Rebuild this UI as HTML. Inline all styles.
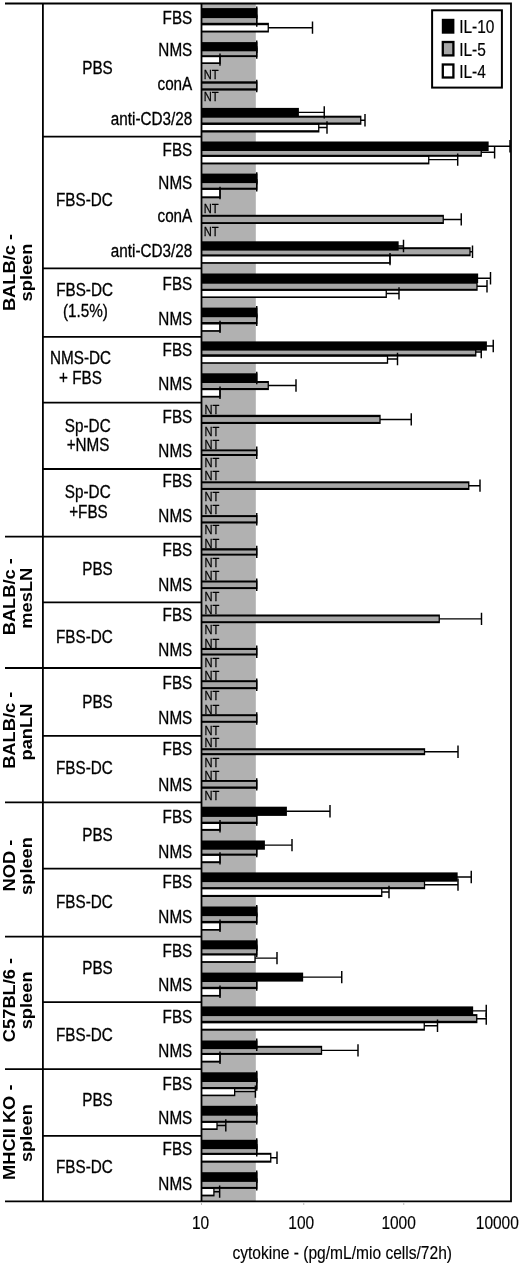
<!DOCTYPE html>
<html lang="en"><head><meta charset="utf-8"><title>Cytokine chart</title>
<style>
html,body{margin:0;padding:0;background:#fff}
body{width:520px;height:1265px;overflow:hidden}
svg{display:block}
text{font-family:"Liberation Sans",sans-serif;fill:#000}
.rl{font-size:17.6px;text-anchor:end;stroke:#000;stroke-width:0.3px}
.sl{font-size:17.6px;text-anchor:middle;stroke:#000;stroke-width:0.3px}
.nt{font-size:13px;text-anchor:start;stroke:#000;stroke-width:0.25px}
.ax{font-size:17.5px;text-anchor:middle;stroke:#000;stroke-width:0.15px}
.rb{font-size:18.3px;font-weight:bold;text-anchor:middle}
.lg{font-size:18.1px;text-anchor:start;stroke:#000;stroke-width:0.2px}
.k{fill:#000}.g{fill:#a6a6a6}.w{fill:#fff}
.e{stroke:#000;stroke-width:1.45;fill:none}
.l{stroke:#000;stroke-width:1.8;fill:none}
</style></head><body>
<svg width="520" height="1265" viewBox="0 0 520 1265">
<rect x="0" y="0" width="520" height="1265" fill="#fff"/>
<rect x="201.5" y="3.5" width="54.30" height="1197.90" fill="#b1b1b1"/>
<g>
<rect class="k" x="201.5" y="22.8" width="67.4" height="9.7"/>
<rect class="w" x="201.5" y="25.2" width="66.1" height="5.4"/>
<rect class="k" x="201.5" y="16.1" width="55.9" height="9.1"/>
<rect class="g" x="201.5" y="18.1" width="54.6" height="4.7"/>
<rect class="k" x="201.5" y="8.1" width="55.9" height="9.2"/>
<path class="e" d="M268.25 27.65H312.5M312.5 21.45V33.85"/>
<path class="e" d="M256.75 14.45V26.85"/>
<path class="e" d="M256.75 6.5V18.9"/>
</g>
<g>
<rect class="k" x="201.5" y="55.2" width="19.15" height="8.8"/>
<rect class="w" x="201.5" y="57.1" width="17.85" height="5.2"/>
<rect class="k" x="201.5" y="48" width="55.9" height="9.1"/>
<rect class="g" x="201.5" y="50" width="54.6" height="5.2"/>
<rect class="k" x="201.5" y="42.1" width="55.9" height="9.2"/>
<path class="e" d="M220 53.4V65.8"/>
<path class="e" d="M256.75 46.35V58.75"/>
<path class="e" d="M256.75 40.5V52.9"/>
</g>
<g>
<rect class="k" x="201.5" y="81.3" width="55.9" height="9.3"/>
<rect class="g" x="201.5" y="83.7" width="54.6" height="4.6"/>
<path class="e" d="M256.75 79.75V92.15"/>
<text class="nt" transform="translate(203.8 79.1) scale(0.86 1)">NT</text>
<text class="nt" transform="translate(203.8 101.3) scale(0.86 1)">NT</text>
</g>
<g>
<rect class="k" x="201.5" y="122.5" width="117.9" height="10"/>
<rect class="w" x="201.5" y="124.8" width="116.6" height="5.4"/>
<rect class="k" x="201.5" y="115.7" width="159.9" height="9.1"/>
<rect class="g" x="201.5" y="117.7" width="158.6" height="4.8"/>
<rect class="k" x="201.5" y="107.9" width="97.4" height="8.9"/>
<path class="e" d="M318.75 127.5H327M327 121.3V133.7"/>
<path class="e" d="M360.75 120.25H365M365 114.05V126.45"/>
<path class="e" d="M298.25 112.35H324.25M324.25 106.15V118.55"/>
</g>
<g>
<rect class="k" x="201.5" y="154.8" width="227.9" height="9.6"/>
<rect class="w" x="201.5" y="156.8" width="226.6" height="5.7"/>
<rect class="k" x="201.5" y="147.7" width="280.4" height="9.1"/>
<rect class="g" x="201.5" y="149.7" width="279.1" height="5.1"/>
<rect class="k" x="201.5" y="141.5" width="287.15" height="9.5"/>
<path class="e" d="M428.75 159.6H457.7M457.7 153.4V165.8"/>
<path class="e" d="M481.25 152.25H494.6M494.6 146.05V158.45"/>
<path class="e" d="M488 146.25H510M510 140.05V152.45"/>
</g>
<g>
<rect class="k" x="201.5" y="187.7" width="19.15" height="10.6"/>
<rect class="w" x="201.5" y="189.8" width="17.85" height="6.5"/>
<rect class="k" x="201.5" y="180.7" width="55.9" height="9.1"/>
<rect class="g" x="201.5" y="182.7" width="54.6" height="5"/>
<rect class="k" x="201.5" y="173.6" width="55.9" height="9.5"/>
<path class="e" d="M220 186.8V199.2"/>
<path class="e" d="M256.75 179.05V191.45"/>
<path class="e" d="M256.75 172.15V184.55"/>
</g>
<g>
<rect class="k" x="201.5" y="214.8" width="242.4" height="9.2"/>
<rect class="g" x="201.5" y="216.8" width="241.1" height="5.3"/>
<path class="e" d="M443.25 219.4H461.25M461.25 213.2V225.6"/>
<text class="nt" transform="translate(203.8 213.3) scale(0.86 1)">NT</text>
<text class="nt" transform="translate(203.8 235.6) scale(0.86 1)">NT</text>
</g>
<g>
<rect class="k" x="201.5" y="254.4" width="189.15" height="9.4"/>
<rect class="w" x="201.5" y="256.3" width="187.85" height="5.8"/>
<rect class="k" x="201.5" y="247.2" width="269.15" height="9.1"/>
<rect class="g" x="201.5" y="249.2" width="267.85" height="5.2"/>
<rect class="k" x="201.5" y="241.3" width="197.15" height="9.3"/>
<path class="e" d="M390 252.9V265.3"/>
<path class="e" d="M470 251.75H472.5M472.5 245.55V257.95"/>
<path class="e" d="M398 245.95H403.5M403.5 239.75V252.15"/>
</g>
<g>
<rect class="k" x="201.5" y="288.8" width="185.4" height="9.2"/>
<rect class="w" x="201.5" y="290.8" width="184.1" height="5.6"/>
<rect class="k" x="201.5" y="281.7" width="276.15" height="9.1"/>
<rect class="g" x="201.5" y="283.7" width="274.85" height="5.1"/>
<rect class="k" x="201.5" y="273.5" width="276.65" height="9.5"/>
<path class="e" d="M386.25 293.4H399M399 287.2V299.6"/>
<path class="e" d="M477 286.25H487M487 280.05V292.45"/>
<path class="e" d="M477.5 278.25H490.5M490.5 272.05V284.45"/>
</g>
<g>
<rect class="k" x="201.5" y="322" width="19.15" height="9.8"/>
<rect class="w" x="201.5" y="324.3" width="17.85" height="5.8"/>
<rect class="k" x="201.5" y="315.2" width="55.9" height="9.1"/>
<rect class="g" x="201.5" y="317.2" width="54.6" height="4.8"/>
<rect class="k" x="201.5" y="307.6" width="55.9" height="9.2"/>
<path class="e" d="M220 320.7V333.1"/>
<path class="e" d="M256.75 313.55V325.95"/>
<path class="e" d="M256.75 306V318.4"/>
</g>
<g>
<rect class="k" x="201.5" y="354.3" width="186.65" height="9.5"/>
<rect class="w" x="201.5" y="356.6" width="185.35" height="5.6"/>
<rect class="k" x="201.5" y="347.5" width="274.9" height="9.1"/>
<rect class="g" x="201.5" y="349.5" width="273.6" height="4.8"/>
<rect class="k" x="201.5" y="341.4" width="285.4" height="9.2"/>
<path class="e" d="M387.5 359.05H397.5M397.5 352.85V365.25"/>
<path class="e" d="M475.75 352.05H481.25M481.25 345.85V358.25"/>
<path class="e" d="M486.25 346H493.25M493.25 339.8V352.2"/>
</g>
<g>
<rect class="k" x="201.5" y="388" width="19.15" height="9.6"/>
<rect class="w" x="201.5" y="390.1" width="17.85" height="5.7"/>
<rect class="k" x="201.5" y="381" width="67.4" height="9.1"/>
<rect class="g" x="201.5" y="383" width="66.1" height="5"/>
<rect class="k" x="201.5" y="373.3" width="55.9" height="9.3"/>
<path class="e" d="M220 386.6V399"/>
<path class="e" d="M268.25 385.55H296M296 379.35V391.75"/>
<path class="e" d="M256.75 371.75V384.15"/>
</g>
<g>
<rect class="k" x="201.5" y="414.8" width="179.15" height="9.2"/>
<rect class="g" x="201.5" y="417.1" width="177.85" height="4.8"/>
<path class="e" d="M380 419.4H411.25M411.25 413.2V425.6"/>
<text class="nt" transform="translate(204.5 414.4) scale(0.86 1)">NT</text>
<text class="nt" transform="translate(204.5 435.5) scale(0.86 1)">NT</text>
</g>
<g>
<rect class="k" x="201.5" y="449.4" width="55.9" height="6.6"/>
<rect class="g" x="201.5" y="451.3" width="54.6" height="2.7"/>
<path class="e" d="M256.75 446.5V458.9"/>
<text class="nt" transform="translate(204.5 448.5) scale(0.86 1)">NT</text>
<text class="nt" transform="translate(204.5 467.2) scale(0.86 1)">NT</text>
</g>
<g>
<rect class="k" x="201.5" y="481.3" width="267.9" height="8.7"/>
<rect class="g" x="201.5" y="483.3" width="266.6" height="4.6"/>
<path class="e" d="M468.75 485.65H480M480 479.45V491.85"/>
<text class="nt" transform="translate(204.5 480.2) scale(0.86 1)">NT</text>
<text class="nt" transform="translate(204.5 501.2) scale(0.86 1)">NT</text>
</g>
<g>
<rect class="k" x="201.5" y="515.1" width="55.9" height="8.4"/>
<rect class="g" x="201.5" y="517.1" width="54.6" height="4.3"/>
<path class="e" d="M256.75 513.1V525.5"/>
<text class="nt" transform="translate(204.5 514.2) scale(0.86 1)">NT</text>
<text class="nt" transform="translate(204.5 534.4) scale(0.86 1)">NT</text>
</g>
<g>
<rect class="k" x="201.5" y="548.2" width="55.9" height="7.4"/>
<rect class="g" x="201.5" y="550.5" width="54.6" height="3.2"/>
<path class="e" d="M256.75 545.7V558.1"/>
<text class="nt" transform="translate(204.5 547.9) scale(0.86 1)">NT</text>
<text class="nt" transform="translate(204.5 566.9) scale(0.86 1)">NT</text>
</g>
<g>
<rect class="k" x="201.5" y="580.5" width="55.9" height="8.6"/>
<rect class="g" x="201.5" y="582.5" width="54.6" height="4.6"/>
<path class="e" d="M256.75 578.6V591"/>
<text class="nt" transform="translate(204.5 580.2) scale(0.86 1)">NT</text>
<text class="nt" transform="translate(204.5 600.6) scale(0.86 1)">NT</text>
</g>
<g>
<rect class="k" x="201.5" y="614.5" width="238.4" height="8.7"/>
<rect class="g" x="201.5" y="616.5" width="237.1" height="4.7"/>
<path class="e" d="M439.25 618.85H481.5M481.5 612.65V625.05"/>
<text class="nt" transform="translate(204.5 613.7) scale(0.86 1)">NT</text>
<text class="nt" transform="translate(204.5 634.4) scale(0.86 1)">NT</text>
</g>
<g>
<rect class="k" x="201.5" y="647.9" width="55.9" height="7.6"/>
<rect class="g" x="201.5" y="650" width="54.6" height="3.5"/>
<path class="e" d="M256.75 645.5V657.9"/>
<text class="nt" transform="translate(204.5 647.7) scale(0.86 1)">NT</text>
<text class="nt" transform="translate(204.5 666.7) scale(0.86 1)">NT</text>
</g>
<g>
<rect class="k" x="201.5" y="680.2" width="55.9" height="9"/>
<rect class="g" x="201.5" y="682.2" width="54.6" height="4.9"/>
<path class="e" d="M256.75 678.5V690.9"/>
<text class="nt" transform="translate(204.5 679.6) scale(0.86 1)">NT</text>
<text class="nt" transform="translate(204.5 700.3) scale(0.86 1)">NT</text>
</g>
<g>
<rect class="k" x="201.5" y="714.2" width="55.9" height="8.6"/>
<rect class="g" x="201.5" y="716.2" width="54.6" height="4.6"/>
<path class="e" d="M256.75 712.3V724.7"/>
<text class="nt" transform="translate(204.5 713.8) scale(0.86 1)">NT</text>
<text class="nt" transform="translate(204.5 734.6) scale(0.86 1)">NT</text>
</g>
<g>
<rect class="k" x="201.5" y="748.2" width="223.65" height="7"/>
<rect class="g" x="201.5" y="750.3" width="222.35" height="2.8"/>
<path class="e" d="M424.5 751.7H458M458 745.5V757.9"/>
<text class="nt" transform="translate(204.5 747.3) scale(0.86 1)">NT</text>
<text class="nt" transform="translate(204.5 766.9) scale(0.86 1)">NT</text>
</g>
<g>
<rect class="k" x="201.5" y="780" width="55.9" height="8.8"/>
<rect class="g" x="201.5" y="781.9" width="54.6" height="4.6"/>
<path class="e" d="M256.75 778.2V790.6"/>
<text class="nt" transform="translate(204.5 779.6) scale(0.86 1)">NT</text>
<text class="nt" transform="translate(204.5 800.2) scale(0.86 1)">NT</text>
</g>
<g>
<rect class="k" x="201.5" y="821.7" width="19.15" height="9.2"/>
<rect class="w" x="201.5" y="824" width="17.85" height="4.9"/>
<rect class="k" x="201.5" y="814.9" width="55.9" height="9.1"/>
<rect class="g" x="201.5" y="816.9" width="54.6" height="4.8"/>
<rect class="k" x="201.5" y="806.7" width="85.4" height="9.2"/>
<path class="e" d="M220 820.1V832.5"/>
<path class="e" d="M256.75 813.25V825.65"/>
<path class="e" d="M286.25 811.3H330M330 805.1V817.5"/>
</g>
<g>
<rect class="k" x="201.5" y="853.6" width="19.15" height="9.6"/>
<rect class="w" x="201.5" y="855.7" width="17.85" height="5.5"/>
<rect class="k" x="201.5" y="846.6" width="55.9" height="9.1"/>
<rect class="g" x="201.5" y="848.6" width="54.6" height="5"/>
<rect class="k" x="201.5" y="840.5" width="63.4" height="9.2"/>
<path class="e" d="M220 852.2V864.6"/>
<path class="e" d="M256.75 844.95V857.35"/>
<path class="e" d="M264.25 845.1H292M292 838.9V851.3"/>
</g>
<g>
<rect class="k" x="201.5" y="887.1" width="180.9" height="9.9"/>
<rect class="w" x="201.5" y="889.2" width="179.6" height="5.7"/>
<rect class="k" x="201.5" y="880.1" width="223.65" height="9.1"/>
<rect class="g" x="201.5" y="882.1" width="222.35" height="5"/>
<rect class="k" x="201.5" y="872.4" width="256.15" height="9.3"/>
<path class="e" d="M381.75 892.05H389M389 885.85V898.25"/>
<path class="e" d="M424.5 884.65H458M458 878.45V890.85"/>
<path class="e" d="M457 877.05H471.25M471.25 870.85V883.25"/>
</g>
<g>
<rect class="k" x="201.5" y="920.9" width="19.15" height="9.8"/>
<rect class="w" x="201.5" y="923.2" width="17.85" height="5.8"/>
<rect class="k" x="201.5" y="914.1" width="55.9" height="9.1"/>
<rect class="g" x="201.5" y="916.1" width="54.6" height="4.8"/>
<rect class="k" x="201.5" y="906.5" width="55.9" height="9.2"/>
<path class="e" d="M220 919.6V932"/>
<path class="e" d="M256.75 912.45V924.85"/>
<path class="e" d="M256.75 904.9V917.3"/>
</g>
<g>
<rect class="k" x="201.5" y="953.3" width="54.15" height="9.6"/>
<rect class="w" x="201.5" y="955.3" width="52.85" height="5.8"/>
<rect class="k" x="201.5" y="946.2" width="55.9" height="9.1"/>
<rect class="g" x="201.5" y="948.2" width="54.6" height="5.1"/>
<rect class="k" x="201.5" y="940.3" width="55.9" height="9"/>
<path class="e" d="M255 958.1H277M277 951.9V964.3"/>
<path class="e" d="M256.75 944.55V956.95"/>
<path class="e" d="M256.75 938.6V951"/>
</g>
<g>
<rect class="k" x="201.5" y="986.8" width="19.15" height="9.8"/>
<rect class="w" x="201.5" y="989.1" width="17.85" height="5.8"/>
<rect class="k" x="201.5" y="980" width="55.9" height="9.1"/>
<rect class="g" x="201.5" y="982" width="54.6" height="4.8"/>
<rect class="k" x="201.5" y="972.6" width="101.65" height="9"/>
<path class="e" d="M220 985.5V997.9"/>
<path class="e" d="M256.75 978.35V990.75"/>
<path class="e" d="M302.5 977.1H341.75M341.75 970.9V983.3"/>
</g>
<g>
<rect class="k" x="201.5" y="1020.8" width="223.4" height="9.9"/>
<rect class="w" x="201.5" y="1023.2" width="222.1" height="5.5"/>
<rect class="k" x="201.5" y="1014.1" width="275.9" height="9.1"/>
<rect class="g" x="201.5" y="1016.1" width="274.6" height="4.7"/>
<rect class="k" x="201.5" y="1006.4" width="271.65" height="8.9"/>
<path class="e" d="M424.25 1025.75H437.5M437.5 1019.55V1031.95"/>
<path class="e" d="M476.75 1018.65H486.25M486.25 1012.45V1024.85"/>
<path class="e" d="M472.5 1010.85H486.25M486.25 1004.65V1017.05"/>
</g>
<g>
<rect class="k" x="201.5" y="1052.9" width="19.15" height="9.7"/>
<rect class="w" x="201.5" y="1054.9" width="17.85" height="5.8"/>
<rect class="k" x="201.5" y="1045.8" width="120.65" height="9.1"/>
<rect class="g" x="201.5" y="1047.8" width="119.35" height="5.1"/>
<rect class="k" x="201.5" y="1040.5" width="55.9" height="8.6"/>
<path class="e" d="M220 1051.55V1063.95"/>
<path class="e" d="M321.5 1050.35H358M358 1044.15V1056.55"/>
<path class="e" d="M256.75 1038.6V1051"/>
</g>
<g>
<rect class="k" x="201.5" y="1087" width="33.8" height="9.2"/>
<rect class="w" x="201.5" y="1089.1" width="32.5" height="5.5"/>
<rect class="k" x="201.5" y="1080" width="55.9" height="9.1"/>
<rect class="g" x="201.5" y="1082" width="54.6" height="5"/>
<rect class="k" x="201.5" y="1072.3" width="55.9" height="9.3"/>
<path class="e" d="M234.65 1091.6H255.4M255.4 1085.4V1097.8"/>
<path class="e" d="M256.75 1078.35V1090.75"/>
<path class="e" d="M256.75 1070.75V1083.15"/>
</g>
<g>
<rect class="k" x="201.5" y="1120.8" width="16.15" height="9.2"/>
<rect class="w" x="201.5" y="1122.8" width="14.85" height="5.5"/>
<rect class="k" x="201.5" y="1113.7" width="55.9" height="9.1"/>
<rect class="g" x="201.5" y="1115.7" width="54.6" height="5.1"/>
<rect class="k" x="201.5" y="1105.8" width="55.9" height="9.2"/>
<path class="e" d="M217 1125.4H225.8M225.8 1119.2V1131.6"/>
<path class="e" d="M256.75 1112.05V1124.45"/>
<path class="e" d="M256.75 1104.2V1116.6"/>
</g>
<g>
<rect class="k" x="201.5" y="1152.8" width="69.9" height="9.9"/>
<rect class="w" x="201.5" y="1154.8" width="68.6" height="5.8"/>
<rect class="k" x="201.5" y="1145.7" width="55.9" height="9.1"/>
<rect class="g" x="201.5" y="1147.7" width="54.6" height="5.1"/>
<rect class="k" x="201.5" y="1139.8" width="55.9" height="9.3"/>
<path class="e" d="M270.75 1157.75H277M277 1151.55V1163.95"/>
<path class="e" d="M256.75 1144.05V1156.45"/>
<path class="e" d="M256.75 1138.25V1150.65"/>
</g>
<g>
<rect class="k" x="201.5" y="1186.9" width="13.05" height="9.5"/>
<rect class="w" x="201.5" y="1188.9" width="11.75" height="5.7"/>
<rect class="k" x="201.5" y="1179.8" width="55.9" height="9.1"/>
<rect class="g" x="201.5" y="1181.8" width="54.6" height="5.1"/>
<rect class="k" x="201.5" y="1172.2" width="55.9" height="9.2"/>
<path class="e" d="M213.9 1191.65H219.65M219.65 1185.45V1197.85"/>
<path class="e" d="M256.75 1178.15V1190.55"/>
<path class="e" d="M256.75 1170.6V1183"/>
</g>
<path class="l" d="M5 3.5H511.0V1201.4H5M42.9 3.5V1201.4M201.5 3.5V1201.4"/>
<path class="l" d="M42.9 136.6H201.5"/>
<path class="l" d="M42.9 268.4H201.5"/>
<path class="l" d="M42.9 336.9H201.5"/>
<path class="l" d="M42.9 402.7H201.5"/>
<path class="l" d="M42.9 469H201.5"/>
<path class="l" d="M5 536.6H201.5"/>
<path class="l" d="M42.9 602.4H201.5"/>
<path class="l" d="M5 668.0H201.5"/>
<path class="l" d="M42.9 735.9H201.5"/>
<path class="l" d="M5 802.4H201.5"/>
<path class="l" d="M42.9 868.6H201.5"/>
<path class="l" d="M5 936.7H201.5"/>
<path class="l" d="M42.9 1002.2H201.5"/>
<path class="l" d="M5 1069.1H201.5"/>
<path class="l" d="M42.9 1135.9H201.5"/>
<path d="M201.5 1202.5V1205" stroke="#bbb" stroke-width="1" fill="none"/>
<path d="M303.75 1202.5V1205" stroke="#bbb" stroke-width="1" fill="none"/>
<path d="M403.75 1202.5V1205" stroke="#bbb" stroke-width="1" fill="none"/>
<text class="rl" transform="translate(192.3 23.75) scale(0.868 1)">FBS</text>
<text class="rl" transform="translate(192.3 56) scale(0.868 1)">NMS</text>
<text class="rl" transform="translate(192.3 89.5) scale(0.868 1)">conA</text>
<text class="rl" transform="translate(192.3 124.5) scale(0.868 1)">anti-CD3/28</text>
<text class="rl" transform="translate(192.3 156.25) scale(0.868 1)">FBS</text>
<text class="rl" transform="translate(192.3 188.75) scale(0.868 1)">NMS</text>
<text class="rl" transform="translate(192.3 222) scale(0.868 1)">conA</text>
<text class="rl" transform="translate(192.3 257) scale(0.868 1)">anti-CD3/28</text>
<text class="rl" transform="translate(192.3 290) scale(0.868 1)">FBS</text>
<text class="rl" transform="translate(192.3 325) scale(0.868 1)">NMS</text>
<text class="rl" transform="translate(192.3 355.5) scale(0.868 1)">FBS</text>
<text class="rl" transform="translate(192.3 390) scale(0.868 1)">NMS</text>
<text class="rl" transform="translate(192.3 422.5) scale(0.868 1)">FBS</text>
<text class="rl" transform="translate(192.3 456.75) scale(0.868 1)">NMS</text>
<text class="rl" transform="translate(192.3 487) scale(0.868 1)">FBS</text>
<text class="rl" transform="translate(192.3 522) scale(0.868 1)">NMS</text>
<text class="rl" transform="translate(192.3 555.5) scale(0.868 1)">FBS</text>
<text class="rl" transform="translate(192.3 590.75) scale(0.868 1)">NMS</text>
<text class="rl" transform="translate(192.3 620.5) scale(0.868 1)">FBS</text>
<text class="rl" transform="translate(192.3 655.5) scale(0.868 1)">NMS</text>
<text class="rl" transform="translate(192.3 688.75) scale(0.868 1)">FBS</text>
<text class="rl" transform="translate(192.3 724.25) scale(0.868 1)">NMS</text>
<text class="rl" transform="translate(192.3 755) scale(0.868 1)">FBS</text>
<text class="rl" transform="translate(192.3 790.5) scale(0.868 1)">NMS</text>
<text class="rl" transform="translate(192.3 822.5) scale(0.868 1)">FBS</text>
<text class="rl" transform="translate(192.3 857.5) scale(0.868 1)">NMS</text>
<text class="rl" transform="translate(192.3 888) scale(0.868 1)">FBS</text>
<text class="rl" transform="translate(192.3 923) scale(0.868 1)">NMS</text>
<text class="rl" transform="translate(192.3 956.75) scale(0.868 1)">FBS</text>
<text class="rl" transform="translate(192.3 990.75) scale(0.868 1)">NMS</text>
<text class="rl" transform="translate(192.3 1022.5) scale(0.868 1)">FBS</text>
<text class="rl" transform="translate(192.3 1056.75) scale(0.868 1)">NMS</text>
<text class="rl" transform="translate(192.3 1089.5) scale(0.868 1)">FBS</text>
<text class="rl" transform="translate(192.3 1123.75) scale(0.868 1)">NMS</text>
<text class="rl" transform="translate(192.3 1154.5) scale(0.868 1)">FBS</text>
<text class="rl" transform="translate(192.3 1190) scale(0.868 1)">NMS</text>
<text class="sl" transform="translate(97.5 73.75) scale(0.868 1)">PBS</text>
<text class="sl" transform="translate(84.4 206.25) scale(0.868 1)">FBS-DC</text>
<text class="sl" transform="translate(84.6 296.25) scale(0.868 1)">FBS-DC</text>
<text class="sl" transform="translate(85.4 317) scale(0.868 1)">(1.5%)</text>
<text class="sl" transform="translate(80.6 363.75) scale(0.868 1)">NMS-DC</text>
<text class="sl" transform="translate(80.4 383.75) scale(0.868 1)">+ FBS</text>
<text class="sl" transform="translate(87.75 431.75) scale(0.868 1)">Sp-DC</text>
<text class="sl" transform="translate(88.1 451.25) scale(0.868 1)">+NMS</text>
<text class="sl" transform="translate(87.75 497.5) scale(0.868 1)">Sp-DC</text>
<text class="sl" transform="translate(88.5 518) scale(0.868 1)">+FBS</text>
<text class="sl" transform="translate(97.5 574.5) scale(0.868 1)">PBS</text>
<text class="sl" transform="translate(84.4 643) scale(0.868 1)">FBS-DC</text>
<text class="sl" transform="translate(97.5 708) scale(0.868 1)">PBS</text>
<text class="sl" transform="translate(84.4 774.25) scale(0.868 1)">FBS-DC</text>
<text class="sl" transform="translate(97.5 840.75) scale(0.868 1)">PBS</text>
<text class="sl" transform="translate(84.4 908) scale(0.868 1)">FBS-DC</text>
<text class="sl" transform="translate(97.5 973.75) scale(0.868 1)">PBS</text>
<text class="sl" transform="translate(84.4 1040.75) scale(0.868 1)">FBS-DC</text>
<text class="sl" transform="translate(97.5 1105.75) scale(0.868 1)">PBS</text>
<text class="sl" transform="translate(84.4 1172.75) scale(0.868 1)">FBS-DC</text>
<text class="rb" transform="translate(14.7 272.5) rotate(-90) scale(1 0.86)">BALB/c -</text>
<text class="rb" transform="translate(32.0 272.5) rotate(-90) scale(1 0.86)">spleen</text>
<text class="rb" transform="translate(14.7 596.7) rotate(-90) scale(1 0.86)">BALB/c -</text>
<text class="rb" transform="translate(32.0 598.2) rotate(-90) scale(1 0.86)">mesLN</text>
<text class="rb" transform="translate(14.7 730.25) rotate(-90) scale(1 0.86)">BALB/c -</text>
<text class="rb" transform="translate(32.0 732.1) rotate(-90) scale(1 0.86)">panLN</text>
<text class="rb" transform="translate(14.7 865.6) rotate(-90) scale(1 0.86)">NOD -</text>
<text class="rb" transform="translate(32.0 866) rotate(-90) scale(1 0.86)">spleen</text>
<text class="rb" transform="translate(14.7 1000) rotate(-90) scale(1 0.86)">C57BL/6 -</text>
<text class="rb" transform="translate(32.0 1000.4) rotate(-90) scale(1 0.86)">spleen</text>
<text class="rb" transform="translate(14.7 1132.25) rotate(-90) scale(1 0.86)">MHCII KO -</text>
<text class="rb" transform="translate(32.0 1133.1) rotate(-90) scale(1 0.86)">spleen</text>
<text class="ax" transform="translate(200.6 1228.6) scale(0.885 1)">10</text>
<text class="ax" transform="translate(301.2 1228.6) scale(0.885 1)">100</text>
<text class="ax" transform="translate(398.6 1228.6) scale(0.885 1)">1000</text>
<text class="ax" transform="translate(497.3 1228.6) scale(0.885 1)">10000</text>
<text class="ax" transform="translate(342.2 1258.9) scale(0.89 1)">cytokine - (pg/mL/mio cells/72h)</text>
<rect x="432.1" y="10.3" width="69.8" height="77.3" fill="#fff" stroke="#000" stroke-width="2"/>
<rect x="441.8" y="18.8" width="12.6" height="14.9" fill="#000"/>
<rect x="442.8" y="42" width="10.6" height="13.4" fill="#a6a6a6" stroke="#000" stroke-width="2.3"/>
<rect x="442.8" y="64.5" width="10.6" height="13" fill="#fff" stroke="#000" stroke-width="2.3"/>
<text class="lg" transform="translate(459.2 33.2) scale(0.855 1)">IL-10</text>
<text class="lg" transform="translate(459.2 55.7) scale(0.855 1)">IL-5</text>
<text class="lg" transform="translate(459.2 77.7) scale(0.855 1)">IL-4</text>
</svg>
</body></html>
